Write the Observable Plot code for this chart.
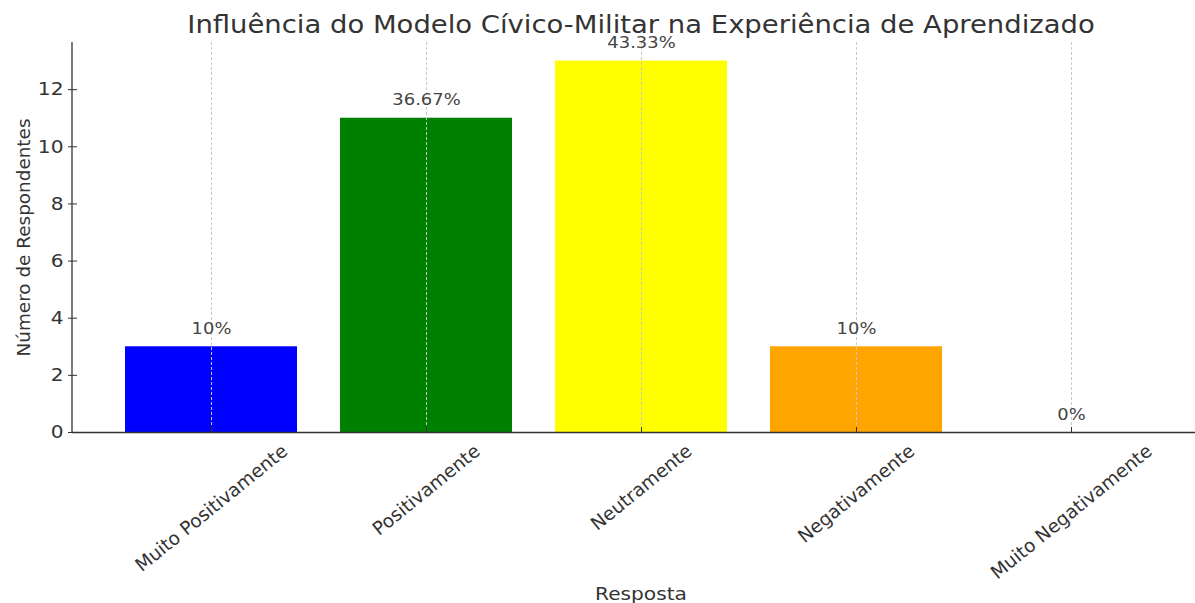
<!DOCTYPE html>
<html>
<head>
<meta charset="utf-8">
<script src="https://cdn.jsdelivr.net/npm/d3@7"></script>
<script src="https://cdn.jsdelivr.net/npm/@observablehq/plot@0.6"></script>
<style>
  body { margin: 0; background: #fff; }
  #chart svg { display: block; }
</style>
</head>
<body>
<div id="chart"></div>
<script>
// ---- data ----
const categories = ["Muito Positivamente", "Positivamente", "Neutramente", "Negativamente", "Muito Negativamente"];
const counts = [3, 11, 13, 3, 0];
const percentLabels = ["10%", "36.67%", "43.33%", "10%", "0%"];
const barColors = ["#0000ff", "#008000", "#ffff00", "#ffa500", "#ff0000"];
const yTicks = [0, 2, 4, 6, 8, 10, 12];
const yDomain = [0, 13.65];
const titleText = "Influência do Modelo Cívico-Militar na Experiência de Aprendizado";
const xLabelText = "Resposta";
const yLabelText = "Número de Respondentes";

const data = categories.map((c, i) => ({category: c, count: counts[i], pct: percentLabels[i], color: barColors[i]}));

// ---- styling ----
const FONT = "DejaVu Sans";
const INK = "#333333";
const tickFont = 18;
const rotFont = 18.6;
const angle = 39;
const stretch = 1.12; // horizontal glyph widening seen in the reference
const rad = angle * Math.PI / 180;
const ctx = document.createElement("canvas").getContext("2d");
ctx.font = `${rotFont}px "${FONT}"`;
const labelOffset = c => {
  const L = ctx.measureText(c).width;
  const h = rotFont * 0.73;
  return 11 + (L * Math.sin(rad) + h * Math.cos(rad)) / 2;
};

const leftSpine = (index, scales, values, dims) => {
  const l = d3.create("svg:line")
    .attr("x1", dims.marginLeft).attr("x2", dims.marginLeft)
    .attr("y1", dims.marginTop).attr("y2", dims.height - dims.marginBottom)
    .attr("stroke", INK).attr("stroke-width", 1.3);
  return l.node();
};

const chart = Plot.plot({
  width: 1195,
  height: 603,
  marginLeft: 72,
  marginRight: -14,
  marginTop: 42,
  marginBottom: 171,
  style: {fontFamily: FONT, background: "#fff", color: INK},
  x: {type: "band", domain: categories, paddingInner: 0.2, paddingOuter: 0.24, label: null},
  y: {domain: yDomain, label: null},
  color: {type: "identity"},
  marks: [
    Plot.barY(data, {x: "category", y: "count", fill: "color"}),
    Plot.gridX({stroke: "#c8c8c8", strokeOpacity: 1, strokeWidth: 1, strokeDasharray: "3,2"}),
    Plot.ruleY([0], {stroke: INK, strokeWidth: 1.3}),
    leftSpine,
    Plot.axisY({ticks: yTicks, tickSize: 9, dx: 5, tickPadding: 5, fontSize: tickFont, label: null, stroke: INK, fill: INK}),
    Plot.axisX({tickSize: 5, dy: -5, tickFormat: () => "", label: null, stroke: INK}),
    ...categories.map(c => Plot.text([c], {
      x: d => d, frameAnchor: "bottom", dy: labelOffset(c), rotate: -angle,
      textAnchor: "middle", lineAnchor: "middle", fontSize: rotFont, fill: INK
    })),
    Plot.text(data, {x: "category", y: "count", text: "pct", dy: -13, lineAnchor: "bottom", fontSize: 16, fill: "#444"}),
    Plot.text([titleText], {frameAnchor: "top", dy: -10, lineAnchor: "bottom", fontSize: 24.5, fill: INK}),
    Plot.text([xLabelText], {frameAnchor: "bottom", dy: 167, lineAnchor: "bottom", fontSize: 18, fill: INK}),
    Plot.text([yLabelText], {frameAnchor: "left", dx: -48, rotate: -90, textAnchor: "middle", lineAnchor: "middle", fontSize: 18.4, fill: INK})
  ]
});
document.getElementById("chart").appendChild(chart);

// widen horizontal texts slightly, as in the reference rendering
chart.querySelectorAll("text").forEach(t => {
  const tr = t.getAttribute("transform") || "";
  if (tr.includes("rotate")) return;
  const w = t.getComputedTextLength();
  if (w > 0) {
    t.setAttribute("textLength", (w * stretch).toFixed(1));
    t.setAttribute("lengthAdjust", "spacingAndGlyphs");
  }
});
</script>
</body>
</html>
